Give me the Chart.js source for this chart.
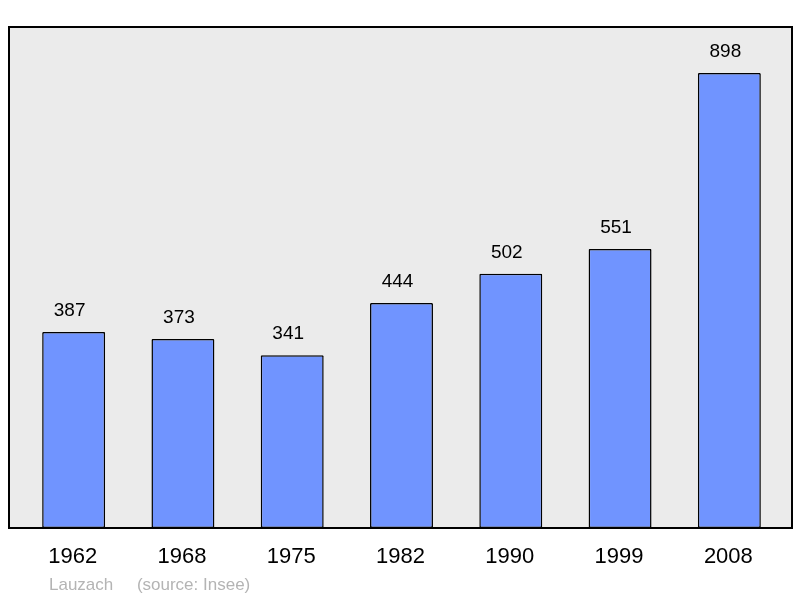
<!DOCTYPE html>
<html><head><meta charset="utf-8">
<script src="https://cdn.jsdelivr.net/npm/chart.js@4"></script>
<style>html,body{margin:0;padding:0;background:#fff}#c{display:block}</style>
</head><body>
<div style="width:800px;height:598px"><canvas id="c"></canvas></div>
<script>
const years = ["1962","1968","1975","1982","1990","1999","2008"];
const population = [387,373,341,444,502,551,898];
const caption = "Lauzach     (source: Insee)";

const framePlugin = {
  id:'frame',
  beforeDatasetsDraw(chart){
    const {ctx, chartArea:a} = chart;
    ctx.save();
    ctx.fillStyle = '#ebebeb';
    ctx.fillRect(a.left-10, a.top, a.right-a.left+18, a.bottom-a.top);
    ctx.strokeStyle = '#000'; ctx.lineWidth = 2;
    ctx.strokeRect(a.left-10, a.top, a.right-a.left+18, a.bottom-a.top);
    ctx.restore();
  },
  afterDatasetsDraw(chart){
    const {ctx, chartArea:a} = chart;
    const xs = chart.scales.x, ys = chart.scales.y;
    ctx.save();
    ctx.fillStyle = '#000'; ctx.textAlign = 'center'; ctx.textBaseline = 'alphabetic';
    ctx.font = '19px "Liberation Sans", Arial, sans-serif';
    population.forEach((v,i)=>{
      ctx.fillText(String(v), xs.getPixelForValue(i)-4, ys.getPixelForValue(v)-16);
    });
    ctx.font = '22px "Liberation Sans", Arial, sans-serif';
    years.forEach((y,i)=>{
      ctx.fillText(y, xs.getPixelForValue(i)-1, a.bottom+35);
    });
    ctx.textAlign = 'left'; ctx.fillStyle = '#b4b4b4';
    ctx.font = '17px "Liberation Sans", Arial, sans-serif';
    ctx.fillText(caption, 49, a.bottom+62);
    ctx.restore();
  }
};

new Chart(document.getElementById('c'), {
  type:'bar',
  data:{labels:years, datasets:[{data:population, backgroundColor:'#7094ff', borderColor:'#000', borderWidth:1.5, borderSkipped:false, borderRadius:1, barPercentage:0.576, categoryPercentage:1}]},
  options:{
    responsive:true, maintainAspectRatio:false, animation:false,
    layout:{padding:{left:19,right:16,top:27,bottom:70}},
    plugins:{legend:{display:false}, tooltip:{enabled:false}},
    scales:{
      x:{display:false},
      y:{display:false, min:0, max:989}
    }
  },
  plugins:[framePlugin]
});
</script>
</body></html>
